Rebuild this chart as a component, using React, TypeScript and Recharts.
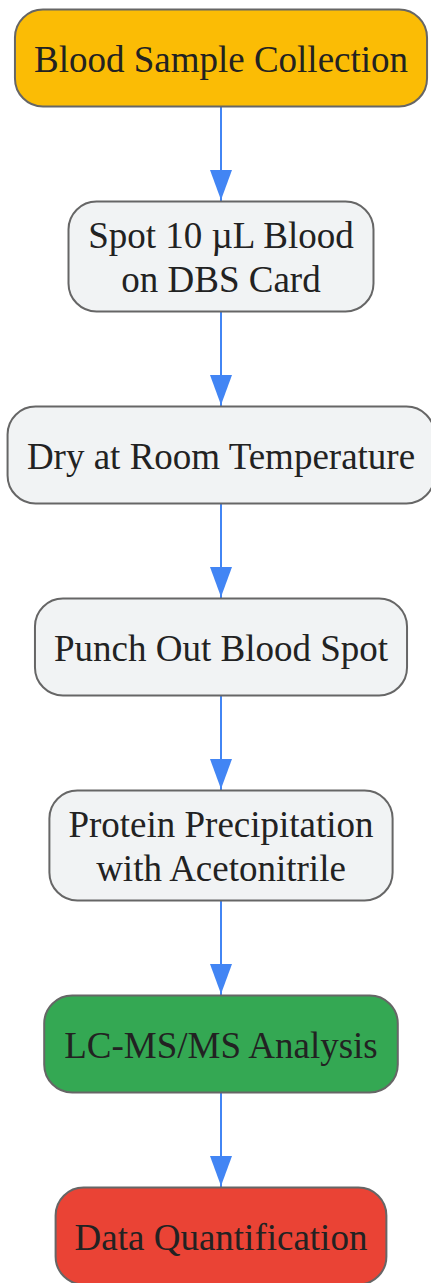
import React from 'react'
import { ScatterChart, Scatter, XAxis, YAxis } from 'recharts'

// flow steps, top to bottom
const steps = [
  'Blood Sample Collection',
  'Spot 10 µL Blood\non DBS Card',
  'Dry at Room Temperature',
  'Punch Out Blood Spot',
  'Protein Precipitation\nwith Acetonitrile',
  'LC-MS/MS Analysis',
  'Data Quantification',
]
const stepKinds = ['start', 'step', 'step', 'step', 'step', 'analysis', 'end']

const kindFill: Record<string, string> = {
  start: '#FBBC05',
  step: '#F1F3F4',
  analysis: '#34A853',
  end: '#EA4335',
}

const CHART_W = 431
const CHART_H = 1283
const FONT = '"Liberation Serif", "Times New Roman", serif'
const FONT_SIZE = 37
const LINE_H = 44
const FIRST_TOP = 9.5
const RANK_GAP = 95
const PAD_X = 19
const EDGE = '#4285F4'

const boxHeight = (lines: number) => (lines > 1 ? 110 : 97)

// simple top-down layout: stack boxes with a constant gap
let cursor = FIRST_TOP
const nodes = steps.map((label, i) => {
  const lines = label.split('\n').length
  const h = boxHeight(lines)
  const top = cursor
  cursor += h + RANK_GAP
  return { x: 1, y: top + h / 2, top, h, label, kind: stepKinds[i] }
})
const arrowTips = nodes.slice(1).map((n) => ({ x: 1, y: n.top - 1.5 }))

let ctx: CanvasRenderingContext2D | null = null
function textWidth(s: string) {
  if (!ctx) ctx = document.createElement('canvas').getContext('2d')
  if (!ctx) return s.length * FONT_SIZE * 0.45
  ctx.font = `${FONT_SIZE}px ${FONT}`
  return ctx.measureText(s).width
}

function NodeShape(props: any) {
  const { cx, cy, payload } = props
  const lines: string[] = payload.label.split('\n')
  const w = Math.max(...lines.map(textWidth)) + PAD_X * 2
  const h = payload.h
  const n = lines.length
  return (
    <g>
      <rect
        x={cx - w / 2}
        y={cy - h / 2}
        width={w}
        height={h}
        rx={28}
        ry={28}
        fill={kindFill[payload.kind]}
        stroke="#666666"
        strokeWidth={2}
      />
      <text textAnchor="middle" fontFamily={FONT} fontSize={FONT_SIZE} fill="#222222">
        {lines.map((l, i) => (
          <tspan key={i} x={cx} y={cy + 13.5 + (i - (n - 1) / 2) * LINE_H}>
            {l}
          </tspan>
        ))}
      </text>
    </g>
  )
}

function ArrowHead(props: any) {
  const { cx, cy } = props
  return <path d={`M${cx - 11},${cy - 30} L${cx + 11},${cy - 30} L${cx},${cy} Z`} fill={EDGE} />
}

const NoDot = () => <g />

export default function App() {
  return (
    <div style={{ width: CHART_W, height: CHART_H, background: '#fff', overflow: 'hidden' }}>
      <style>{'html,body{margin:0;padding:0;overflow:hidden}'}</style>
      <ScatterChart
        width={CHART_W}
        height={CHART_H}
        margin={{ top: 0, right: 0, bottom: 0, left: 11 }}
      >
        <XAxis type="number" dataKey="x" domain={[0, 2]} hide />
        <YAxis type="number" dataKey="y" domain={[0, CHART_H]} reversed hide />
        <Scatter
          data={nodes}
          line={{ stroke: EDGE, strokeWidth: 2 }}
          shape={NoDot}
          isAnimationActive={false}
        />
        <Scatter data={arrowTips} shape={ArrowHead} isAnimationActive={false} />
        <Scatter data={nodes} shape={NodeShape} isAnimationActive={false} />
      </ScatterChart>
    </div>
  )
}
